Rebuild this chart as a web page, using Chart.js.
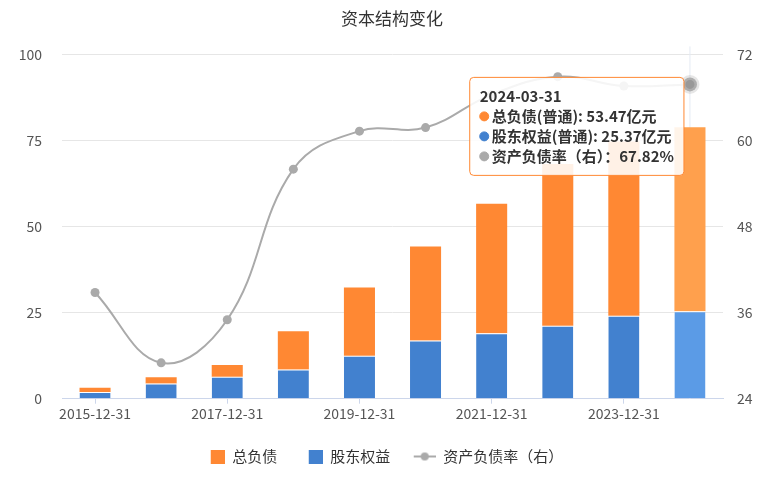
<!DOCTYPE html>
<html>
<head>
<meta charset="utf-8">
<script src="https://cdn.jsdelivr.net/npm/chart.js@4.4.1/dist/chart.umd.min.js"></script>
<style>
  body { margin: 0; background: #fff; }
  #wrap { width: 784px; height: 480px; }
</style>
</head>
<body>
<div id="wrap"><canvas id="chart"></canvas></div>
<script>
const categories = ['2015-12-31', '2016-12-31', '2017-12-31', '2018-12-31', '2019-12-31',
  '2020-12-31', '2021-12-31', '2022-12-31', '2023-12-31', '2024-03-31']
const equity = [1.95, 4.4, 6.35, 8.5, 12.5, 16.9, 19.0, 21.2, 24.1, 25.37]
const liabilities = [1.25, 1.8, 3.45, 11.1, 19.8, 27.3, 37.6, 47.0, 50.6, 53.47]
const debtRatio = [38.8, 29.0, 35.0, 56.0, 61.3, 61.8, 66.4, 68.9, 67.6, 67.82]
const leftTicks = [0, 25, 50, 75, 100]
const rightTicks = [24, 36, 48, 60, 72]

const ORANGE = '#ff8833'
const BLUE = '#4281cf'
const GRAY = '#aaaaaa'
const FONT = '"Noto Sans CJK SC", "Noto Sans", sans-serif'

// legend icons: square on the right side, or a line with a dot
function legendIcon(color, kind) {
  const c = document.createElement('canvas')
  c.width = 26; c.height = 14
  const ctx = c.getContext('2d')
  ctx.fillStyle = color
  ctx.strokeStyle = color
  if (kind === 'rect') {
    ctx.fillRect(12, 0, 14, 14)
  } else {
    ctx.lineWidth = 2
    ctx.beginPath(); ctx.moveTo(4, 7); ctx.lineTo(26, 7); ctx.stroke()
    ctx.beginPath(); ctx.arc(15, 7, 4, 0, Math.PI * 2); ctx.fill()
  }
  return c
}
const legendIcons = [legendIcon(BLUE, 'rect'), legendIcon(ORANGE, 'rect'), legendIcon(GRAY, 'line')]

Chart.Tooltip.positioners.nearPoint = function (items) {
  const p = items.find(i => i.datasetIndex === 2) || items[0]
  if (!p) return false
  return { x: p.element.x - 10, y: p.element.y - 7, xAlign: 'right', yAlign: 'top' }
}

const crosshair = {
  id: 'crosshair',
  afterLayout(chart) {
    // nudge legend a bit left, like the original
    chart.legend.left -= 11
    chart.legend.right -= 11
  },
  beforeDatasetsDraw(chart) {
    const act = chart.getActiveElements()
    if (!act.length) return
    const x = act[0].element.x
    const ctx = chart.ctx
    ctx.save()
    ctx.strokeStyle = '#e4eaf3'
    ctx.lineWidth = 1
    ctx.beginPath()
    ctx.moveTo(x, chart.chartArea.top - 8)
    ctx.lineTo(x, chart.chartArea.bottom)
    ctx.stroke()
    ctx.restore()
  }
}

const tipNames = ['股东权益(普通): ', '总负债(普通): ', '资产负债率（右）：']
const tipUnits = ['亿元', '亿元', '%']
const tipColors = [BLUE, ORANGE, GRAY]
const legendRank = [1, 0, 2]

const chart = new Chart(document.getElementById('chart'), {
  type: 'bar',
  data: {
    labels: categories,
    datasets: [{
      label: '股东权益',
      data: equity,
      backgroundColor: BLUE,
      hoverBackgroundColor: '#5b9be6',
      borderColor: '#ffffff',
      hoverBorderColor: '#ffffff',
      borderWidth: { top: 1 },
      borderSkipped: 'start',
      stack: 's',
      yAxisID: 'y',
      order: 1,
      barPercentage: 0.94,
      categoryPercentage: 0.5
    }, {
      label: '总负债',
      data: liabilities,
      backgroundColor: ORANGE,
      hoverBackgroundColor: '#ffa04d',
      borderWidth: 0,
      stack: 's',
      yAxisID: 'y',
      order: 1,
      barPercentage: 0.94,
      categoryPercentage: 0.5
    }, {
      type: 'line',
      label: '资产负债率（右）',
      data: debtRatio,
      yAxisID: 'y1',
      borderColor: GRAY,
      backgroundColor: GRAY,
      borderWidth: 2,
      tension: 0.4,
      pointStyle: 'circle',
      pointRadius: 4.5,
      pointBackgroundColor: GRAY,
      pointBorderWidth: 0,
      pointHoverRadius: 7,
      pointHoverBackgroundColor: '#999999',
      pointHoverBorderColor: 'rgba(200,200,200,0.45)',
      pointHoverBorderWidth: 5,
      order: 0
    }]
  },
  options: {
    responsive: true,
    maintainAspectRatio: false,
    animation: false,
    events: [],
    interaction: { mode: 'index', intersect: false },
    layout: { padding: { left: 0, right: 0, top: 0, bottom: 6 } },
    scales: {
      x: {
        stacked: true,
        offset: true,
        afterFit: s => { s.height += 5 },
        grid: {
          offset: false,
          drawOnChartArea: false,
          drawTicks: true,
          tickLength: 5,
          color: '#ccd6eb'
        },
        border: { color: '#ccd6eb', width: 1 },
        ticks: {
          autoSkip: false,
          maxRotation: 0,
          padding: 2,
          color: '#555',
          font: { family: FONT, size: 14 },
          callback: function (v, i) { return i % 2 === 0 ? this.getLabelForValue(v) : null }
        }
      },
      y: {
        stacked: true,
        position: 'left',
        min: 0,
        max: 100,
        afterBuildTicks: s => { s.ticks = leftTicks.map(v => ({ value: v })) },
        afterFit: s => { s.width = 62 },
        grid: { color: '#e6e6e6', lineWidth: 1, drawTicks: false },
        border: { display: false },
        ticks: { padding: 20, color: '#555', font: { family: FONT, size: 14 } }
      },
      y1: {
        position: 'right',
        min: 24,
        max: 72,
        afterBuildTicks: s => { s.ticks = rightTicks.map(v => ({ value: v })) },
        afterFit: s => { s.width = 61 },
        grid: { display: false, drawTicks: false },
        border: { display: false },
        ticks: { padding: 14, color: '#555', font: { family: FONT, size: 14 } }
      }
    },
    plugins: {
      title: {
        display: true,
        text: '资本结构变化',
        color: '#333',
        font: { family: FONT, size: 17, weight: 'normal' },
        padding: { top: 8, bottom: 26 }
      },
      legend: {
        position: 'bottom',
        labels: {
          usePointStyle: true,
          pointStyleWidth: 26,
          boxHeight: 14,
          padding: 19.5,
          color: '#333',
          font: { family: FONT, size: 15 },
          generateLabels: chart => Chart.defaults.plugins.legend.labels.generateLabels(chart)
            .map(l => Object.assign(l, { pointStyle: legendIcons[l.datasetIndex] })),
          sort: (a, b) => legendRank[a.datasetIndex] - legendRank[b.datasetIndex]
        }
      },
      tooltip: {
        position: 'nearPoint',
        caretSize: 0,
        caretPadding: 0,
        cornerRadius: 4,
        backgroundColor: 'rgba(255,255,255,0.88)',
        borderColor: ORANGE,
        borderWidth: 1,
        padding: { left: 10, right: 10, top: 10, bottom: 10 },
        titleColor: '#333',
        bodyColor: '#333',
        titleFont: { family: FONT, size: 15, weight: 'bold' },
        bodyFont: { family: FONT, size: 15, weight: 'bold' },
        titleMarginBottom: 2,
        bodySpacing: 2,
        usePointStyle: true,
        boxWidth: 9,
        boxHeight: 9,
        boxPadding: 1,
        itemSort: (a, b) => legendRank[a.datasetIndex] - legendRank[b.datasetIndex],
        callbacks: {
          label: ctx => tipNames[ctx.datasetIndex] + ctx.parsed.y.toFixed(2) + tipUnits[ctx.datasetIndex],
          labelColor: ctx => ({ borderColor: tipColors[ctx.datasetIndex], backgroundColor: tipColors[ctx.datasetIndex], borderWidth: 0 }),
          labelPointStyle: () => ({ pointStyle: 'circle', rotation: 0 })
        }
      }
    }
  },
  plugins: [crosshair]
})

const last = categories.length - 1
const active = [0, 1, 2].map(d => ({ datasetIndex: d, index: last }))
chart.setActiveElements(active)
chart.tooltip.setActiveElements(active, { x: 0, y: 0 })
chart.update()
</script>
</body>
</html>
